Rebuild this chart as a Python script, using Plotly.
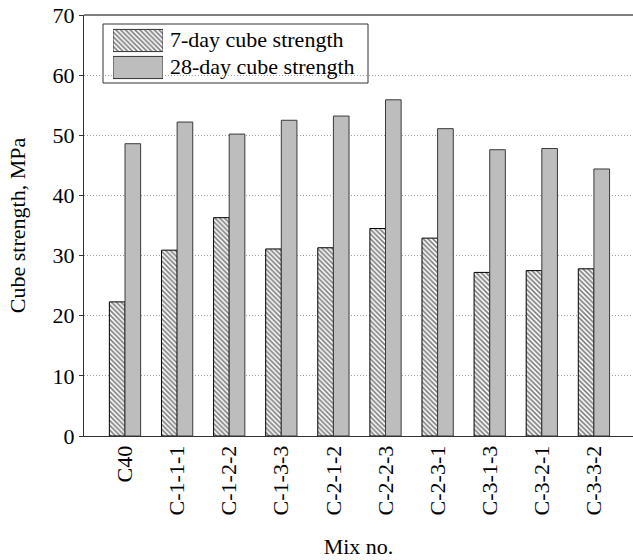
import plotly.graph_objects as go

mixes = ["C40", "C-1-1-1", "C-1-2-2", "C-1-3-3", "C-2-1-2", "C-2-2-3",
         "C-2-3-1", "C-3-1-3", "C-3-2-1", "C-3-3-2"]
day7 = [22.3, 30.9, 36.3, 31.1, 31.3, 34.5, 32.9, 27.2, 27.5, 27.8]
day28 = [48.6, 52.2, 50.2, 52.5, 53.2, 55.9, 51.1, 47.6, 47.8, 44.4]
series_names = ["7-day cube strength", "28-day cube strength"]
y_ticks = [0, 10, 20, 30, 40, 50, 60, 70]

FONT = "Liberation Serif"
GRAY = "#bdbdbd"
HATCH = dict(shape="\\", size=3.4, solidity=0.5, fgcolor="black", bgcolor="white")

fig = go.Figure()
fig.add_trace(go.Bar(
    x=mixes, y=day7, name=series_names[0], showlegend=False,
    marker=dict(color="white", line=dict(color="black", width=1), pattern=HATCH),
))
fig.add_trace(go.Bar(
    x=mixes, y=day28, name=series_names[1], showlegend=False,
    marker=dict(color=GRAY, line=dict(color="#3a3a3a", width=1)),
))

# custom legend swatches on an auxiliary axis pair
fig.add_trace(go.Bar(
    x=[1], y=[1], orientation="h", xaxis="x2", yaxis="y2", showlegend=False,
    width=0.82, hoverinfo="skip",
    marker=dict(color="white", line=dict(color="#333333", width=1), pattern=HATCH),
))
fig.add_trace(go.Bar(
    x=[1], y=[0], orientation="h", xaxis="x2", yaxis="y2", showlegend=False,
    width=0.82, hoverinfo="skip",
    marker=dict(color=GRAY, line=dict(color="#333333", width=1)),
))

W, H = 633, 560
L, R, T, B = 84, 0, 15, 124
pw, ph = W - L - R, H - T - B

def px_to_paper_x(px):
    return (px - L) / pw

def px_to_paper_y(py):
    return (H - B - py) / ph

fig.update_layout(
    width=W, height=H,
    margin=dict(l=L, r=R, t=T, b=B),
    paper_bgcolor="white", plot_bgcolor="white",
    font=dict(family=FONT, size=22, color="black"),
    barmode="group", bargap=0.4, bargroupgap=0.0,
    xaxis=dict(
        range=[-0.787, 9.75], tickangle=-90, showgrid=False,
        showline=True, linecolor="#333333", linewidth=1, mirror=False,
        ticks="", tickfont=dict(size=22),
        title=dict(text="Mix no.", standoff=24, font=dict(size=22)),
    ),
    yaxis=dict(
        range=[0, 70], tickvals=y_ticks, showgrid=True,
        gridcolor="#a0a0a0", griddash="1px,2px", gridwidth=1,
        showline=True, linecolor="#333333", linewidth=1,
        ticks="outside", ticklen=4, tickcolor="#333333",
        tickfont=dict(size=22), zeroline=False,
        title=dict(text="Cube strength, MPa", standoff=20, font=dict(size=22)),
    ),
    xaxis2=dict(domain=[px_to_paper_x(113), px_to_paper_x(163)], range=[0, 1],
                anchor="y2", visible=False, fixedrange=True),
    yaxis2=dict(domain=[px_to_paper_y(81), px_to_paper_y(27)], range=[-0.5, 1.5],
                anchor="x2", visible=False, fixedrange=True),
    shapes=[
        dict(type="rect", xref="paper", yref="paper",
             x0=px_to_paper_x(103), x1=px_to_paper_x(368),
             y0=px_to_paper_y(83), y1=px_to_paper_y(24),
             line=dict(color="#333333", width=1), fillcolor="white", layer="below"),
        dict(type="line", xref="paper", yref="paper",
             x0=0, x1=1, y0=1, y1=1, line=dict(color="#555555", width=1.5)),
    ],
    annotations=[
        dict(text=series_names[0], xref="paper", yref="paper",
             x=px_to_paper_x(168), y=px_to_paper_y(40), xanchor="left",
             yanchor="middle", showarrow=False, font=dict(size=22)),
        dict(text=series_names[1], xref="paper", yref="paper",
             x=px_to_paper_x(168), y=px_to_paper_y(67), xanchor="left",
             yanchor="middle", showarrow=False, font=dict(size=22)),
    ],
)

fig.write_html("out.html")
